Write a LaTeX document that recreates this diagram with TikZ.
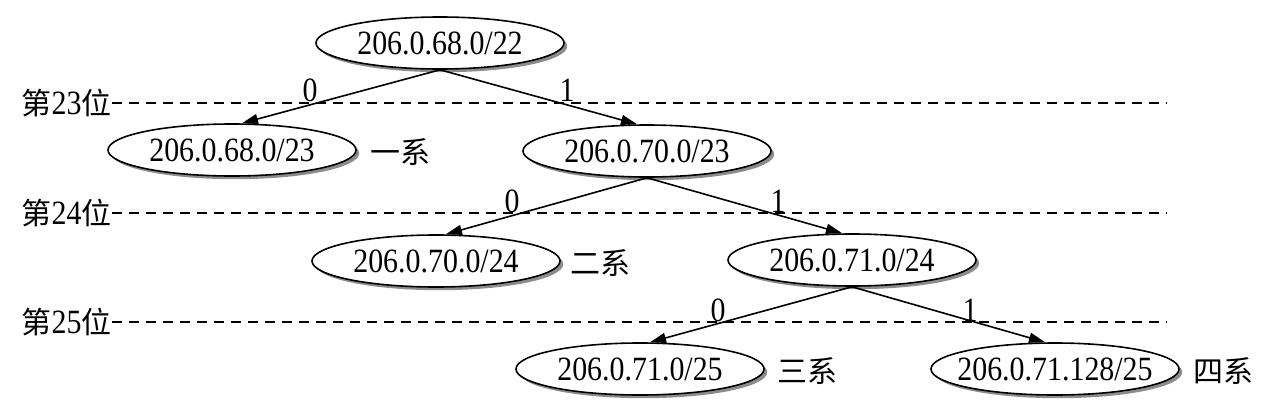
\documentclass[tikz,border=0pt]{standalone}
\usepackage{fontspec}
\setmainfont[FakeStretch=0.88]{Liberation Serif}
\newfontfamily\cjk{Noto Sans CJK SC}
\usetikzlibrary{shapes.geometric,shadows,arrows.meta}
\newcommand\ipbox[1]{\makebox[0pt]{#1}}
\begin{document}
\begin{tikzpicture}[x=0.5pt,y=-0.5pt,
  every node/.style={font=\fontsize{17}{20}\selectfont},
  ipnode/.style={ellipse,draw,line width=0.8pt,fill=white,minimum width=124pt,minimum height=26pt,inner sep=0pt,
    drop shadow={shadow xshift=1.6pt,shadow yshift=-1.6pt,fill=black!45,opacity=1}},
  link/.style={line width=0.8pt,-{Triangle[length=8pt,width=5pt]}},
  levelline/.style={dash pattern=on 5pt off 3.5pt,line width=0.8pt},
  bitlabel/.style={inner sep=0pt},
  grouplabel/.style={anchor=west,inner sep=0pt,font=\fontsize{15}{18}\selectfont\cjk},
  levellabel/.style={anchor=east,inner sep=0pt}]
\useasboundingbox (0,0) rectangle (1266,413);

% level lines
\node[levellabel] (l23) at (112,103) {{\fontsize{15}{18}\selectfont\cjk 第}23{\fontsize{15}{18}\selectfont\cjk 位}};
\node[levellabel] (l24) at (112,213) {{\fontsize{15}{18}\selectfont\cjk 第}24{\fontsize{15}{18}\selectfont\cjk 位}};
\node[levellabel] (l25) at (112,322) {{\fontsize{15}{18}\selectfont\cjk 第}25{\fontsize{15}{18}\selectfont\cjk 位}};
\coordinate (e23) at (1167,103);
\coordinate (e24) at (1167,213);
\coordinate (e25) at (1167,322);
\draw[levelline] (l23.east) -- (e23);
\draw[levelline] (l24.east) -- (e24);
\draw[levelline] (l25.east) -- (e25);

% nodes
\node[ipnode] (root) at (440,43) {\ipbox{206.0.68.0/22}};
\node[ipnode] (a23) at (232,150) {\ipbox{206.0.68.0/23}};
\node[ipnode] (b23) at (647,151) {\ipbox{206.0.70.0/23}};
\node[ipnode] (a24) at (436,261) {\ipbox{206.0.70.0/24}};
\node[ipnode] (b24) at (852,260) {\ipbox{206.0.71.0/24}};
\node[ipnode] (a25) at (640,369) {\ipbox{206.0.71.0/25}};
\node[ipnode] (b25) at (1055,369) {\ipbox{206.0.71.128/25}};

% group labels
\node[grouplabel] (g1) at (370,152) {一系};
\node[grouplabel] (g2) at (570,263) {二系};
\node[grouplabel] (g3) at (777,371) {三系};
\node[grouplabel] (g4) at (1193,371) {四系};

% edges
\draw[link] (root.south) -- ([xshift=5pt]a23.north);
\draw[link] (root.south) -- ([xshift=-5pt]b23.north);
\draw[link] (b23.south) -- ([xshift=5pt]a24.north);
\draw[link] (b23.south) -- ([xshift=-5pt]b24.north);
\draw[link] (b24.south) -- ([xshift=5pt]a25.north);
\draw[link] (b24.south) -- ([xshift=-5pt]b25.north);

% bit labels
\node[bitlabel] (z1) at (310,90) {0};
\node[bitlabel] (o1) at (567,90) {1};
\node[bitlabel] (z2) at (512,201) {0};
\node[bitlabel] (o2) at (778,201) {1};
\node[bitlabel] (z3) at (718,310) {0};
\node[bitlabel] (o3) at (970,310) {1};
\end{tikzpicture}
\end{document}
